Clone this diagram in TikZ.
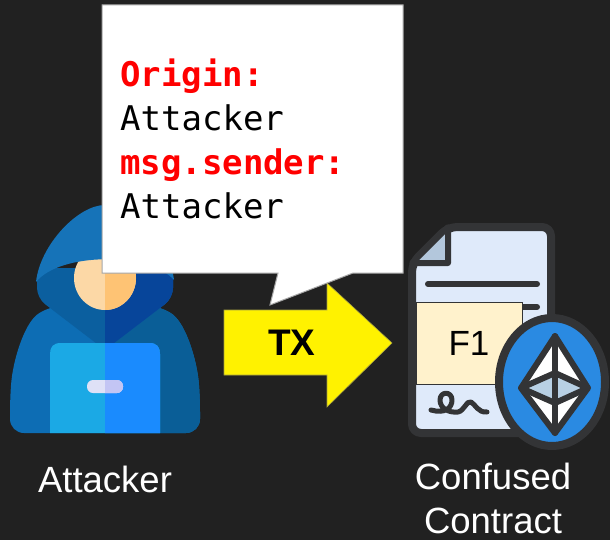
\documentclass[tikz,border=0pt]{standalone}
\usepackage{fontspec}
\setmainfont{Liberation Sans}
\setmonofont{DejaVu Sans Mono}

\definecolor{bgdark}{HTML}{212121}
\definecolor{ink}{HTML}{333436}
\definecolor{hoodtop}{HTML}{1673B8}
\definecolor{hoodinL}{HTML}{0B5F9F}
\definecolor{hoodinR}{HTML}{07459A}
\definecolor{cloakL}{HTML}{0D6DB4}
\definecolor{cloakR}{HTML}{0A5E97}
\definecolor{faceL}{HTML}{FCD8A6}
\definecolor{faceR}{HTML}{FEC374}
\definecolor{laptopL}{HTML}{1BA9E5}
\definecolor{laptopR}{HTML}{1A8BFE}
\definecolor{slotL}{HTML}{DFE1F7}
\definecolor{slotR}{HTML}{C3C5F4}
\definecolor{pagefill}{HTML}{DFEAFA}
\definecolor{foldblue}{HTML}{B3C7DC}
\definecolor{fnfill}{HTML}{FFF2CC}
\definecolor{ethblue}{HTML}{2A8AE2}
\definecolor{ethlight}{HTML}{B8D0E4}

% fill a path twice: left colour, then the right half in a darker tone
\newcommand{\twotone}[3]{%
  \fill[#1] #3;
  \begin{scope}
    \clip (105,190) rectangle (215,440);
    \fill[#2] #3;
  \end{scope}}

\begin{document}
\begin{tikzpicture}[x=1pt, y=-1pt,
  caption/.style = {text=white, font=\fontsize{36.5}{44}\selectfont,
    align=center, inner sep=0pt},
  codetext/.style = {font=\ttfamily\fontsize{34}{44}\selectfont,
    align=left, inner sep=0pt},
  inkline/.style = {draw=ink, line width=#1, line cap=round, line join=round},
  inkline/.default = 6pt]

\useasboundingbox[fill=bgdark] (0,0) rectangle (610,540);

% hooded attacker
\twotone{cloakL}{cloakR}{[rounded corners=14pt] (10,433) -- (10,398)
  .. controls (13,360) and (24,325) .. (48,306) -- (162,306)
  .. controls (186,325) and (197,360) .. (200,398) -- (200,433) -- cycle}
\twotone{hoodinL}{hoodinR}{[rounded corners=10pt] (37,268) -- (37,298)
  -- (105,350) -- (173,298) -- (173,268) -- cycle}
\twotone{faceL}{faceR}{(105,278) ellipse [x radius=31, y radius=32]}
\fill[hoodtop] (36,282) .. controls (40,245) and (78,205) .. (105,205)
  .. controls (132,205) and (170,245) .. (174,280)
  .. controls (150,252) and (60,252) .. (36,282) -- cycle;
\twotone{laptopL}{laptopR}{(50,433) -- (50,354) .. controls (50,347) and (53,343) .. (61,343)
  -- (149,343) .. controls (157,343) and (160,347) .. (160,354) -- (160,433) -- cycle}
\twotone{slotL}{slotR}{[rounded corners=6pt] (87,380) rectangle (123,393)}
\node[caption, anchor=base] (attacker) at (105,492) {Attacker};

% the transaction arrow
\filldraw[fill=yellow, draw=yellow!60!black, line width=0.6pt]
  (224,310) -- (327,310) -- (327,283) -- (392,343) -- (327,407)
  -- (327,375) -- (224,375) -- cycle;
\node[font=\bfseries\fontsize{37}{37}\selectfont, inner sep=0pt] (tx) at (292,343) {TX};

% callout with the call context
\filldraw[fill=white, draw=gray!70, line width=1pt]
  (102,5) -- (403,5) -- (403,273) -- (353,273) -- (270,305) -- (278,273)
  -- (102,273) -- cycle;
\node[codetext, anchor=north west] (context) at (120,59)
  {\textbf{\color{red}Origin:}\\Attacker\\\textbf{\color{red}msg.sender:}\\Attacker};

% contract page
\filldraw[fill=pagefill, inkline=8pt, rounded corners=9pt]
  (448,227) -- (551,227) -- (551,433) -- (412,433) -- (412,263) -- cycle;
\filldraw[fill=foldblue, inkline=6pt] (448,227) -- (448,263) -- (412,263) -- cycle;
\draw[inkline] (428,284) -- (537,284) (428,307) -- (537,307);
\draw[inkline=5pt] (431,410) .. controls (445,414) and (452,408) .. (452,400)
  .. controls (452,391) and (440,391) .. (440,400)
  .. controls (440,408) and (448,413) .. (458,412)
  .. controls (464,411) and (467,400) .. (471,402)
  .. controls (475,404) and (478,413) .. (487,412);
\node[draw=ink, line width=1pt, fill=fnfill, minimum width=106pt, minimum height=82pt,
  inner sep=0pt, font=\fontsize{35}{35}\selectfont] (f1) at (469,343) {F1};

% ether badge
\filldraw[fill=ethblue, inkline=8pt] (552,382) ellipse [x radius=53, y radius=64];
\filldraw[fill=white, inkline] (555,336) -- (521,388) -- (555,433) -- (588,388) -- cycle;
\filldraw[fill=ethlight, inkline] (521,388) -- (555,373) -- (588,388) -- (555,403) -- cycle;
\draw[inkline] (555,336) -- (555,433);

\node[caption, anchor=north] (contract) at (493,463) {Confused\\Contract};
\end{tikzpicture}
\end{document}
